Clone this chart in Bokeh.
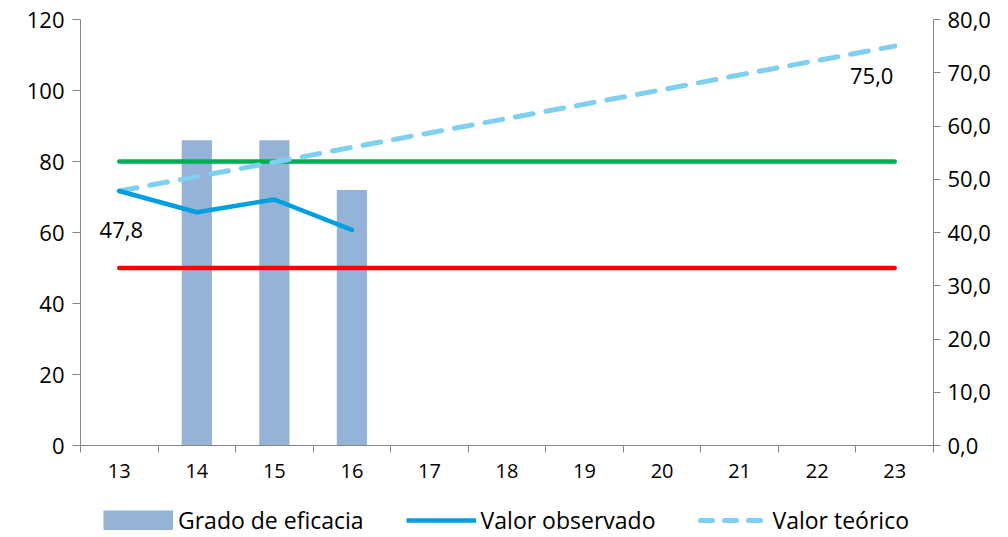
from bokeh.plotting import figure
from bokeh.layouts import column
from bokeh.models import Range1d, LinearAxis, FixedTicker, Legend, LegendItem, ColumnDataSource
from bokeh.core.properties import value
from bokeh.embed import file_html
from bokeh.resources import INLINE

weeks = [13, 14, 15, 16, 17, 18, 19, 20, 21, 22, 23]
bar_weeks = [14, 15, 16]
grado_eficacia = [86, 86, 72]
obs_weeks = [13, 14, 15, 16]
valor_observado = [47.8, 43.8, 46.2, 40.5]
valor_teorico = [47.8, 50.5, 53.2, 56.0, 58.7, 61.4, 64.1, 66.8, 69.6, 72.3, 75.0]
limite_superior = [80] * 11
limite_inferior = [50] * 11
label_weeks = [13, 23]
label_values = [47.8, 75.0]

FONT = "Open Sans"
AXIS_COLOR = "#868686"
BAR_COLOR = "#95B3D7"
OBS_COLOR = "#009FDF"
TEO_COLOR = "#7FD0F0"
W = 1005
H_MAIN = 492

p = figure(width=W, height=H_MAIN, output_backend="svg", toolbar_location=None,
           x_range=Range1d(12.5, 23.5), y_range=Range1d(0, 120),
           min_border_left=80, min_border_right=W - 933, min_border_top=19,
           min_border_bottom=H_MAIN - 445)
p.outline_line_color = None
p.grid.grid_line_color = None
p.extra_y_ranges = {"right": Range1d(0, 80)}

# axes styling
p.xaxis.ticker = FixedTicker(ticks=weeks, minor_ticks=[w + 0.5 for w in [12] + weeks])
p.xaxis.major_tick_out = 0
p.xaxis.major_tick_in = 0
p.xaxis.minor_tick_out = 7
p.xaxis.minor_tick_in = 0
p.xaxis.minor_tick_line_color = AXIS_COLOR
p.xaxis.axis_line_color = AXIS_COLOR
p.xaxis.major_label_standoff = 11
p.xaxis.major_label_text_font = FONT
p.xaxis.major_label_text_font_size = "20px"
p.xaxis.major_label_text_color = "#000000"

p.yaxis.ticker = FixedTicker(ticks=[0, 20, 40, 60, 80, 100, 120], minor_ticks=[])
p.yaxis.major_tick_out = 8
p.yaxis.major_tick_in = 0
p.yaxis.major_tick_line_color = AXIS_COLOR
p.yaxis.axis_line_color = AXIS_COLOR
p.yaxis.major_label_standoff = 8
p.yaxis.major_label_text_font = FONT
p.yaxis.major_label_text_font_size = "22px"
p.yaxis.major_label_text_color = "#000000"

right_ticks = [0, 10, 20, 30, 40, 50, 60, 70, 80]
ry = LinearAxis(y_range_name="right", ticker=FixedTicker(ticks=right_ticks, minor_ticks=[]))
ry.major_label_overrides = {t: f"{t:.1f}".replace(".", ",") for t in right_ticks}
ry.major_tick_out = 7
ry.major_tick_in = 0
ry.major_tick_line_color = AXIS_COLOR
ry.axis_line_color = AXIS_COLOR
ry.major_label_standoff = 7
ry.major_label_text_font = FONT
ry.major_label_text_font_size = "22px"
ry.major_label_text_color = "#000000"
p.add_layout(ry, "right")

# bars
p.vbar(x=bar_weeks, top=grado_eficacia, width=0.39, fill_color=BAR_COLOR, line_color=None)

# threshold lines
p.line(weeks, limite_superior, line_color="#00B050", line_width=4.5, line_cap="round")
p.line(weeks, limite_inferior, line_color="#FF0000", line_width=4.5, line_cap="round")

# theoretical and observed
p.line(weeks, valor_teorico, y_range_name="right", line_color=TEO_COLOR,
       line_width=5, line_dash="18 13", line_cap="round")
p.line(obs_weeks, valor_observado, y_range_name="right", line_color=OBS_COLOR,
       line_width=4.5, line_join="round", line_cap="round")

# data labels
src = ColumnDataSource(dict(x=label_weeks, y=label_values,
                            t=[f"{v:.1f}".replace(".", ",") for v in label_values],
                            xo=[2, -23], yo=[39, 30]))
p.text(x="x", y="y", text="t", x_offset="xo", y_offset="yo", source=src,
       y_range_name="right", text_font=value(FONT), text_font_size="22px",
       text_align="center", text_baseline="middle", text_color="#000000")

# legend in its own strip below the chart (swatch glyphs kept outside the strip's range)
lg = figure(width=W, height=537 - H_MAIN, output_backend="svg", toolbar_location=None,
            x_range=Range1d(0, 1), y_range=Range1d(0, 1), min_border=0)
lg.axis.visible = False
lg.grid.grid_line_color = None
lg.outline_line_color = None
r_bar = lg.line(x=[5, 6], y=[5, 5], line_color=BAR_COLOR, line_width=20, line_cap="butt")
r_obs = lg.line(x=[5, 6], y=[5, 5], line_color=OBS_COLOR, line_width=4.5)
r_teo = lg.line(x=[5, 6], y=[5, 5], line_color=TEO_COLOR, line_width=5, line_dash="12 12",
                line_cap="round", line_dash_offset=-3)
legend = Legend(items=[LegendItem(label="Grado de eficacia", renderers=[r_bar]),
                       LegendItem(label="Valor observado", renderers=[r_obs]),
                       LegendItem(label="Valor teórico", renderers=[r_teo])],
                orientation="horizontal", location=(23, 1),
                glyph_width=70, glyph_height=20, label_standoff=5, spacing=42,
                padding=0, margin=0, border_line_color=None, background_fill_alpha=0,
                label_text_font=FONT, label_text_font_size="23px",
                label_text_color="#000000")
lg.add_layout(legend, "center")

layout = column(p, lg, spacing=0)
open("out.html", "w").write(file_html(layout, INLINE))
